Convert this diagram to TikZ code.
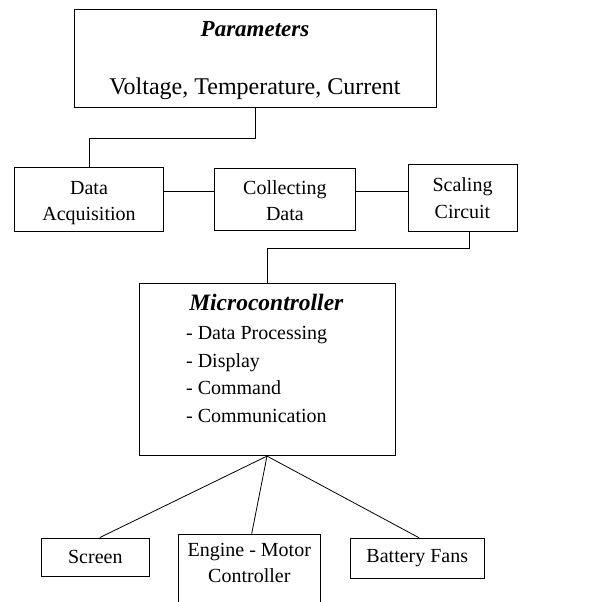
\documentclass[tikz,border=0pt]{standalone}
\usepackage{fontspec}
\setmainfont{Liberation Serif}
\usetikzlibrary{positioning,calc}

\begin{document}
\begin{tikzpicture}[x=1pt,y=-1pt,line width=0.8pt,
    blk/.style={draw, align=center, inner sep=0pt, font=\fontsize{20}{26.4}\selectfont},
    lbl/.style={font=\fontsize{20}{26.4}\selectfont, inner sep=0pt}]
    \useasboundingbox (0,0) rectangle (595,602);
    % parameters
    \node[blk, minimum width=362pt, minimum height=98pt, font=\fontsize{24}{28.8}\selectfont,
        text height=72pt, text depth=0pt] (par) at (255,58.3)
        {{\fontsize{23}{28}\selectfont\textbf{\textit{Parameters}}}\\[29.5pt]Voltage, Temperature, Current};
    % acquisition chain
    \node[blk, minimum width=148.6pt, minimum height=64.7pt, text height=42.8pt, text depth=0pt] (acq) at (89,199.3) {Data\\Acquisition};
    \node[blk, minimum width=141.7pt, minimum height=62.7pt, text height=42.8pt, text depth=0pt] (coll) at (284.9,199.3) {Collecting\\Data};
    \node[blk, minimum width=109pt, minimum height=67pt] (scal) at (462.5,198.2) {Scaling\\Circuit};
    \draw (par.south) -- ++(0,30.5) -| (acq.north);
    \draw ([yshift=7.6pt]acq.east) -- ([yshift=7.6pt]acq.east -| coll.west);
    \draw ([yshift=8pt]coll.east) -- ([yshift=8pt]coll.east -| scal.west);
    % microcontroller
    \node[draw, minimum width=256pt, minimum height=172pt, inner sep=0pt] (mcu) at (267,369.7) {};
    \node[font=\fontsize{23.5}{28}\selectfont\bfseries\itshape, anchor=base, inner sep=0pt] (mcutitle) at (266.3,310.7) {Microcontroller};
    \foreach \task [count=\i] in {Data Processing, Display, Command, Communication} {
        \node[lbl, anchor=base west] (task\i) at (185.7,{339.3+27.7*(\i-1)}) {- \task};
    }
    \draw ([xshift=6.5pt]scal.south) -- ++(0,16.3) -| (mcu.north);
    % outputs
    \node[blk, minimum width=108pt, minimum height=38pt] (scr) at (95.3,557) {Screen};
    \node[blk, minimum width=142.7pt, anchor=north, inner ysep=9pt, text depth=30pt] (eng) at (249.3,533.7) {Engine - Motor\\Controller};
    \node[blk, minimum width=134pt, minimum height=40.4pt] (fans) at (417.3,558.5) {Battery Fans};
    \draw (mcu.south) -- ([xshift=4.4pt]scr.north);
    \draw (mcu.south) -- ([xshift=2.4pt]eng.north);
    \draw (mcu.south) -- ([xshift=2pt]fans.north);
\end{tikzpicture}
\end{document}
